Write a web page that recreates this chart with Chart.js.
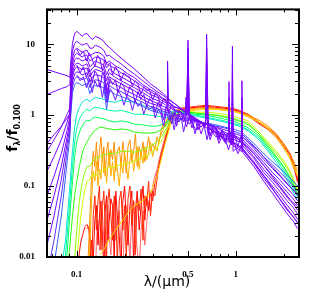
<!DOCTYPE html>
<html>
<head>
<meta charset="utf-8">
<script src="https://cdn.jsdelivr.net/npm/chart.js@4.4.1/dist/chart.umd.min.js"></script>
<style>
body { margin: 0; background: #fff; }
#wrap { width: 314px; height: 292px; }
</style>
</head>
<body>
<div id="wrap"><canvas id="myChart" width="314" height="292"></canvas></div>
<script>
// wavelength grids, in micron
const wYoung = [0.065, 0.072, 0.08, 0.087, 0.0905, 0.0915, 0.094, 0.097, 0.1,
  0.104, 0.108, 0.112, 0.116, 0.121, 0.126, 0.131, 0.14, 0.148, 0.154, 0.16, 0.175, 0.19, 0.21, 0.23, 0.26, 0.29,
  0.32, 0.35, 0.37, 0.3727, 0.375, 0.41, 0.45, 0.48, 0.486, 0.492, 0.5007, 0.51,
  0.56, 0.645, 0.6563, 0.67, 0.75, 0.85, 0.9, 0.9069, 0.915, 0.945, 0.9532, 0.962, 1.085, 1.094, 1.105, 1.3, 1.5, 1.7, 1.9, 2.1, 2.3, 2.45];
const wForest = [0.1, 0.105, 0.11, 0.115, 0.12, 0.125, 0.13, 0.135, 0.14, 0.145, 0.15, 0.156, 0.162, 0.168, 0.175,
  0.182, 0.19, 0.198, 0.206, 0.215, 0.224, 0.233, 0.243, 0.253, 0.264, 0.275, 0.287, 0.3, 0.312, 0.325, 0.338, 0.352,
  0.366, 0.38, 0.395, 0.41, 0.425, 0.44, 0.455, 0.47, 0.49, 0.51, 0.53, 0.555, 0.58, 0.605, 0.63, 0.66, 0.69, 0.72,
  0.75, 0.785, 0.82, 0.86, 0.9, 0.94, 0.98, 1.03, 1.08, 1.2, 1.4, 1.6, 1.8, 2.0, 2.2, 2.45];
const wMid = [0.08, 0.085, 0.09, 0.094, 0.097, 0.1, 0.104, 0.108, 0.112, 0.116, 0.121, 0.126, 0.131, 0.14, 0.15, 0.16,
  0.175, 0.19, 0.21, 0.23, 0.26, 0.29, 0.32, 0.35, 0.37, 0.39, 0.41, 0.45, 0.5, 0.56, 0.65, 0.75, 0.85, 0.95, 1.05,
  1.2, 1.4, 1.6, 1.8, 2.0, 2.2, 2.45];
const wOld = [0.115, 0.12, 0.124, 0.127, 0.13, 0.133, 0.136, 0.139, 0.142, 0.145, 0.148, 0.151, 0.154, 0.157, 0.16,
  0.164, 0.168, 0.172, 0.176, 0.18, 0.185, 0.19, 0.195, 0.2, 0.205, 0.21, 0.216, 0.222, 0.228, 0.234, 0.24, 0.247,
  0.254, 0.261, 0.268, 0.275, 0.283, 0.291, 0.3, 0.31, 0.32, 0.33, 0.34, 0.35, 0.36, 0.37, 0.38, 0.39, 0.4, 0.42,
  0.45, 0.5, 0.56, 0.65, 0.75, 0.85, 0.95, 1.05, 1.2, 1.4, 1.6, 1.8, 2.0, 2.2, 2.35, 2.45];
const wRedTail = [0.102, 0.106, 0.11, 0.113, 0.116, 0.119, 0.121, 0.123];

// young (purple) spectra
const P1 = [4.4, 4.1, 3.8, 3.6, 3.4, 5.4, 10.3, 14.2, 15.2, 14.2, 12.9, 13.8, 14.2, 12.5, 11.7, 12.9, 12.1, 11.0, 9.7, 9.1, 7.5, 6.4, 5.3, 4.5, 3.5, 2.78, 2.37, 2.02, 1.78, 5.8, 1.72, 1.47, 1.25, 1.14, 1.78, 1.07, 11.4, 1.0, 0.85, 0.70, 13.8, 0.66, 0.56, 0.46, 0.42, 2.97, 0.41, 0.38, 9.4, 0.37, 0.31, 3.06, 0.30, 0.19, 0.117, 0.080, 0.056, 0.041, 0.032, 0.025];
const P2 = [1.96, 2.15, 2.37, 2.53, 2.70, 3.96, 8.0, 10.3, 11.0, 10.3, 9.7, 10.0, 10.3, 8.8, 8.8, 9.7, 9.1, 8.25, 6.8, 7.0, 6.0, 5.3, 4.4, 3.8, 3.06, 2.53, 2.15, 1.90, 1.72, 3.96, 1.67, 1.47, 1.25, 1.17, 1.52, 1.10, 8.8, 1.03, 0.91, 0.73, 8.8, 0.68, 0.58, 0.48, 0.45, 1.78, 0.44, 0.41, 5.4, 0.40, 0.33, 1.78, 0.32, 0.21, 0.129, 0.091, 0.064, 0.046, 0.037, 0.030];
const P3 = [0.40, 0.53, 0.70, 0.91, 1.03, 2.87, 6.4, 8.25, 8.8, 8.25, 7.7, 8.0, 8.25, 6.8, 7.3, 7.7, 7.5, 6.8, 5.4, 5.8, 4.95, 4.5, 3.8, 3.4, 2.70, 2.30, 2.02, 1.72, 1.62, 2.87, 1.56, 1.33, 1.21, 1.10, 1.33, 1.07, 6.4, 1.0, 0.88, 0.73, 5.4, 0.54, 0.60, 0.51, 0.46, 1.10, 0.45, 0.44, 2.87, 0.42, 0.35, 1.10, 0.34, 0.22, 0.142, 0.1, 0.073, 0.054, 0.042, 0.034];
const P4 = [0.31, 0.45, 0.68, 1.03, 1.25, 2.45, 5.4, 7.0, 7.5, 7.0, 6.6, 7.0, 7.0, 5.8, 6.2, 6.6, 6.4, 6.0, 4.64, 5.1, 4.5, 3.96, 3.48, 3.06, 2.53, 2.15, 1.90, 1.67, 1.56, 2.09, 1.52, 1.29, 1.25, 1.10, 1.25, 1.14, 3.96, 1.03, 0.88, 0.75, 2.87, 0.73, 0.62, 0.53, 0.495, 0.80, 0.48, 0.45, 1.52, 0.31, 0.38, 0.68, 0.37, 0.245, 0.156, 0.114, 0.083, 0.062, 0.050, 0.040];
const P5 = [0.162, 0.26, 0.45, 0.80, 1.10, 2.09, 4.64, 6.0, 6.4, 6.2, 5.8, 6.0, 6.2, 4.8, 5.3, 5.8, 5.4, 5.1, 3.7, 4.5, 3.8, 3.48, 3.06, 2.70, 2.30, 1.96, 1.78, 1.56, 1.47, 1.72, 1.42, 1.21, 1.10, 1.03, 1.17, 1.0, 2.09, 0.97, 0.85, 0.75, 1.52, 0.70, 0.495, 0.54, 0.51, 0.68, 0.51, 0.48, 0.94, 0.46, 0.41, 0.495, 0.40, 0.26, 0.172, 0.125, 0.094, 0.070, 0.056, 0.046];
const P6 = [0.073, 0.138, 0.287, 0.62, 0.94, 1.78, 3.96, 5.1, 5.4, 5.3, 4.95, 5.1, 5.3, 4.1, 4.64, 4.95, 4.64, 4.4, 3.06, 3.96, 3.4, 3.06, 2.70, 2.45, 2.09, 1.78, 1.62, 1.47, 1.33, 1.52, 1.33, 1.17, 1.07, 1.0, 1.07, 1.0, 1.52, 0.97, 0.62, 0.75, 1.10, 0.73, 0.66, 0.58, 0.54, 0.54, 0.53, 0.51, 0.58, 0.495, 0.44, 0.44, 0.42, 0.287, 0.196, 0.142, 0.107, 0.083, 0.066, 0.054];
const P7 = [0.033, 0.073, 0.19, 0.495, 0.80, 1.52, 3.48, 4.5, 4.8, 4.64, 4.4, 4.5, 4.64, 3.48, 4.1, 4.4, 4.2, 3.96, 2.53, 3.48, 3.06, 2.78, 2.45, 2.22, 1.84, 1.62, 1.47, 1.33, 1.25, 1.25, 1.25, 0.97, 1.03, 0.97, 0.97, 0.94, 0.94, 0.94, 0.83, 0.75, 0.75, 0.75, 0.66, 0.42, 0.56, 0.56, 0.56, 0.53, 0.53, 0.53, 0.46, 0.45, 0.45, 0.31, 0.215, 0.156, 0.121, 0.094, 0.075, 0.062];
const P8 = [0.0147, 0.038, 0.125, 0.40, 0.68, 1.29, 2.97, 3.8, 4.1, 3.96, 3.7, 3.8, 3.96, 2.97, 3.48, 3.7, 3.6, 3.4, 2.02, 2.97, 2.70, 2.45, 2.15, 1.96, 1.67, 1.47, 1.38, 1.21, 1.17, 1.17, 1.17, 0.88, 0.97, 0.91, 0.91, 0.91, 0.91, 0.91, 0.83, 0.75, 0.75, 0.75, 0.68, 0.62, 0.60, 0.60, 0.58, 0.56, 0.56, 0.56, 0.51, 0.51, 0.495, 0.34, 0.237, 0.178, 0.138, 0.107, 0.088, 0.073];
const P9 = [0.0056, 0.0172, 0.073, 0.31, 0.58, 1.10, 2.53, 3.26, 3.48, 3.4, 3.16, 3.26, 3.4, 2.45, 2.97, 3.16, 3.06, 2.87, 1.52, 2.61, 2.30, 2.15, 1.90, 1.72, 1.52, 1.33, 1.25, 1.14, 1.10, 1.10, 1.10, 0.83, 0.91, 0.88, 0.88, 0.88, 0.88, 0.88, 0.83, 0.77, 0.77, 0.75, 0.70, 0.66, 0.64, 0.64, 0.62, 0.42, 0.60, 0.60, 0.54, 0.54, 0.53, 0.37, 0.26, 0.20, 0.156, 0.125, 0.10, 0.085];
const P10 = [0.0025, 0.0077, 0.038, 0.22, 0.495, 0.94, 2.09, 2.70, 2.87, 2.78, 2.61, 2.70, 2.78, 2.02, 2.53, 2.61, 2.53, 2.45, 1.21, 2.22, 1.96, 1.84, 1.67, 1.52, 1.33, 1.17, 1.10, 1.03, 1.0, 1.0, 1.0, 0.77, 0.88, 0.83, 0.83, 0.85, 0.85, 0.85, 0.83, 0.77, 0.77, 0.77, 0.73, 0.68, 0.66, 0.66, 0.66, 0.64, 0.64, 0.64, 0.58, 0.58, 0.56, 0.40, 0.287, 0.22, 0.178, 0.142, 0.117, 0.10];
// noisy young spectra (absorption forest)
const F1 = [5.1, 3.96, 4.8, 3.4, 4.5, 2.87, 4.2, 3.7, 2.45, 3.96, 3.48, 1.96, 3.26, 2.70, 3.16, 2.09, 2.87, 2.53, 1.78, 2.53, 2.22, 1.52, 2.15, 1.67, 1.96, 1.33, 1.72, 1.52, 1.10, 1.52, 1.25, 0.85, 1.33, 1.03, 0.75, 1.10, 0.70, 1.03, 0.85, 1.0, 0.68, 0.94, 0.77, 0.88, 0.62, 0.83, 0.70, 0.77, 0.51, 0.70, 0.64, 0.45, 0.62, 0.53, 0.56, 0.38, 0.51, 0.46, 0.42, 0.35, 0.237, 0.162, 0.114, 0.085, 0.064, 0.051];
const F2 = [3.7, 3.06, 3.48, 2.45, 3.26, 2.09, 3.06, 2.53, 2.87, 1.78, 2.70, 1.52, 2.37, 2.09, 1.62, 2.22, 1.90, 1.38, 1.84, 1.67, 1.17, 1.62, 1.33, 1.52, 1.03, 1.38, 1.21, 1.33, 0.91, 1.21, 1.07, 0.70, 1.10, 0.85, 1.0, 0.62, 0.94, 0.80, 0.91, 0.58, 0.88, 0.75, 0.85, 0.545, 0.80, 0.68, 0.75, 0.45, 0.70, 0.62, 0.66, 0.48, 0.62, 0.40, 0.58, 0.53, 0.56, 0.36, 0.51, 0.42, 0.31, 0.215, 0.162, 0.125, 0.097, 0.077];
const F3 = [8.5, 7.0, 8.0, 5.8, 7.5, 6.2, 4.8, 7.0, 6.2, 4.2, 6.0, 5.1, 5.4, 3.7, 4.8, 4.2, 3.06, 3.96, 3.6, 3.48, 2.53, 3.06, 2.70, 1.96, 2.53, 2.22, 2.30, 1.62, 2.02, 1.84, 1.33, 1.72, 1.52, 1.10, 1.42, 1.25, 0.91, 1.17, 1.10, 0.80, 1.03, 0.97, 0.66, 0.85, 0.77, 0.545, 0.70, 0.66, 0.45, 0.60, 0.56, 0.40, 0.51, 0.46, 0.326, 0.44, 0.41, 0.287, 0.36, 0.26, 0.172, 0.114, 0.077, 0.056, 0.042, 0.0306];

// intermediate (cyan / green / yellow) spectra
const G1 = [0.0066, 0.0172, 0.085, 0.31, 0.68, 1.03, 1.29, 1.52, 1.62, 1.67, 1.56, 1.67, 1.78, 1.72, 1.67, 1.56, 1.52, 1.62, 1.56, 1.52, 1.38, 1.25, 1.17, 1.10, 1.03, 1.10, 1.14, 1.10, 1.03, 0.97, 0.91, 0.85, 0.80, 0.75, 0.70, 0.60, 0.45, 0.31, 0.215, 0.152, 0.10, 0.062];
const G2 = [0.0018, 0.0107, 0.053, 0.19, 0.42, 0.66, 0.88, 1.03, 1.14, 1.21, 1.14, 1.25, 1.29, 1.25, 1.21, 1.17, 1.14, 1.17, 1.10, 1.03, 1.03, 1.0, 0.97, 0.94, 0.91, 1.03, 1.10, 1.10, 1.03, 1.0, 0.94, 0.88, 0.83, 0.77, 0.73, 0.62, 0.48, 0.326, 0.237, 0.167, 0.114, 0.070];
const G3 = [0.001, 0.0056, 0.033, 0.117, 0.26, 0.42, 0.58, 0.70, 0.80, 0.85, 0.83, 0.91, 0.94, 0.91, 0.88, 0.83, 0.80, 0.83, 0.80, 0.75, 0.73, 0.70, 0.70, 0.75, 0.80, 0.97, 1.07, 1.10, 1.07, 1.03, 1.0, 0.94, 0.88, 0.83, 0.77, 0.66, 0.51, 0.348, 0.253, 0.184, 0.125, 0.075];
const G4 = [0.0005, 0.0025, 0.0125, 0.038, 0.073, 0.117, 0.19, 0.287, 0.36, 0.42, 0.495, 0.56, 0.62, 0.68, 0.66, 0.64, 0.62, 0.64, 0.62, 0.58, 0.56, 0.56, 0.58, 0.66, 0.75, 0.94, 1.07, 1.14, 1.10, 1.07, 1.03, 1.0, 0.94, 0.88, 0.83, 0.73, 0.545, 0.37, 0.26, 0.19, 0.133, 0.080];
const Y1 = [null, null, null, 0.0025, 0.0091, 0.024, 0.062, 0.110, 0.152, 0.19, 0.19, 0.222, 0.245, 0.26, 0.278, 0.287, 0.287, 0.31, 0.31, 0.30, 0.326, 0.36, 0.42, 0.545, 0.68, 0.85, 1.0, 1.10, 1.10, 1.07, 1.03, 1.0, 0.97, 0.91, 0.85, 0.77, 0.545, 0.396, 0.287, 0.215, 0.152, 0.085];
const Y2 = [null, null, null, 0.001, 0.0035, 0.0085, 0.024, 0.053, 0.085, 0.117, 0.125, 0.152, 0.138, 0.162, 0.172, 0.184, 0.19, 0.202, 0.209, 0.222, 0.253, 0.287, 0.348, 0.48, 0.62, 0.80, 0.97, 1.10, 1.14, 1.10, 1.10, 1.07, 1.03, 0.97, 0.91, 0.83, 0.58, 0.42, 0.31, 0.23, 0.162, 0.091];
const Y3 = [null, null, null, null, null, null, null, null, null, null, null, null, null, 0.0107, 0.0133, 0.0172, 0.024, 0.0306, 0.042, 0.053, 0.062, 0.080, 0.138, 0.31, 0.495, 0.75, 0.94, 1.07, 1.14, 1.17, 1.21, 1.21, 1.17, 1.14, 1.07, 0.97, 0.80, 0.66, 0.495, 0.36, 0.237, 0.138];

// old (orange / red) spectra
const O1 = [0.0025, 0.024, 0.138, 0.31, 0.19, 0.42, 0.162, 0.31, 0.495, 0.222, 0.36, 0.138, 0.31, 0.42, 0.19, 0.326, 0.237, 0.42, 0.162, 0.31, 0.36, 0.19, 0.42, 0.26, 0.152, 0.36, 0.45, 0.222, 0.31, 0.545, 0.19, 0.36, 0.26, 0.42, 0.222, 0.326, 0.495, 0.31, 0.396, 0.326, 0.495, 0.42, 0.62, 0.75, 0.68, 0.88, 0.91, 1.03, 1.10, 1.17, 1.21, 1.21, 1.25, 1.29, 1.25, 1.21, 1.17, 1.10, 1.0, 0.85, 0.70, 0.545, 0.396, 0.278, 0.209, 0.162];
const O2 = [0.0013, 0.0091, 0.062, 0.162, 0.117, 0.222, 0.10, 0.172, 0.125, 0.31, 0.152, 0.222, 0.110, 0.19, 0.31, 0.138, 0.222, 0.117, 0.26, 0.172, 0.10, 0.222, 0.152, 0.31, 0.19, 0.125, 0.237, 0.326, 0.162, 0.26, 0.36, 0.172, 0.31, 0.209, 0.36, 0.237, 0.287, 0.42, 0.26, 0.36, 0.31, 0.45, 0.545, 0.62, 0.80, 0.85, 0.97, 1.0, 1.07, 1.14, 1.17, 1.17, 1.21, 1.25, 1.21, 1.17, 1.14, 1.07, 0.94, 0.80, 0.64, 0.495, 0.348, 0.245, 0.184, 0.142];
const R1 = [0.025, 0.027, 0.0066, 0.038, 0.073, 0.024, 0.062, 0.10, 0.0125, 0.053, 0.085, 0.028, 0.0091, 0.062, 0.091, 0.038, 0.0172, 0.073, 0.045, 0.0077, 0.062, 0.085, 0.024, 0.053, 0.0091, 0.066, 0.10, 0.028, 0.062, 0.0107, 0.073, 0.045, 0.091, 0.0172, 0.073, 0.053, 0.117, 0.038, 0.085, 0.073, 0.125, 0.209, 0.287, 0.36, 0.45, 0.58, 0.75, 0.91, 1.0, 1.14, 1.25, 1.29, 1.33, 1.38, 1.33, 1.29, 1.25, 1.17, 1.03, 0.80, 0.66, 0.53, 0.396, 0.287, 0.19, 0.125];
const R2 = [0.0025, 0.0048, 0.0172, 0.0091, 0.033, 0.053, 0.0147, 0.038, 0.062, 0.020, 0.0066, 0.045, 0.073, 0.0172, 0.033, 0.066, 0.053, 0.0091, 0.085, 0.038, 0.020, 0.0066, 0.062, 0.10, 0.033, 0.0147, 0.053, 0.085, 0.0077, 0.045, 0.085, 0.024, 0.053, 0.10, 0.033, 0.073, 0.045, 0.085, 0.062, 0.110, 0.152, 0.19, 0.26, 0.326, 0.42, 0.53, 0.68, 0.85, 0.97, 1.10, 1.21, 1.25, 1.29, 1.33, 1.29, 1.25, 1.21, 1.14, 1.0, 0.77, 0.64, 0.51, 0.37, 0.27, 0.172, 0.117];
const R3 = [null, null, null, null, 0.0025, 0.0172, 0.033, 0.0125, 0.028, 0.045, 0.0172, 0.0077, 0.033, 0.053, 0.020, 0.0107, 0.038, 0.062, 0.0172, 0.028, 0.045, 0.0125, 0.0066, 0.028, 0.053, 0.024, 0.0091, 0.038, 0.062, 0.024, 0.0125, 0.0066, 0.024, 0.045, 0.0147, 0.028, 0.062, 0.045, 0.10, 0.138, 0.172, 0.237, 0.31, 0.396, 0.495, 0.62, 0.75, 0.88, 1.0, 1.10, 1.21, 1.25, 1.29, 1.29, 1.25, 1.21, 1.17, 1.10, 0.97, 0.75, 0.62, 0.48, 0.348, 0.245, 0.162, 0.110];
const fRedTail = [0.0085, 0.0162, 0.0222, 0.027, 0.0287, 0.025, 0.0172, 0.0085];

// axis ticks
const xTicks = [0.07, 0.08, 0.09, 0.1, 0.2, 0.3, 0.4, 0.5, 0.6, 0.7, 0.8, 0.9, 1, 2];
const xMajor = [0.1, 0.5, 1];
const yTicks = [0.01, 0.02, 0.03, 0.04, 0.05, 0.06, 0.07, 0.08, 0.09, 0.1, 0.2, 0.3, 0.4, 0.5, 0.6, 0.7, 0.8, 0.9,
  1, 2, 3, 4, 5, 6, 7, 8, 9, 10, 20, 30];
const yMajor = [0.01, 0.1, 1, 10];

// purple on top, red underneath
const lines = [
  [wYoung, P1, '#7b00ff'], [wYoung, P2, '#7d08ff'], [wYoung, P3, '#7a00ff'], [wYoung, P4, '#8010ff'],
  [wYoung, P5, '#7800ff'], [wYoung, P6, '#7c0cff'], [wYoung, P7, '#7400ff'], [wYoung, P8, '#7010ff'],
  [wForest, F3, '#7c06ff'], [wForest, F1, '#7600ff'], [wForest, F2, '#6c18ff'],
  [wYoung, P9, '#5a30ff'], [wYoung, P10, '#3a60ff'],
  [wMid, G1, '#00e6d2'], [wMid, G2, '#00ff9c'], [wMid, G3, '#00ff5a'], [wMid, G4, '#28ff10'],
  [wMid, Y1, '#8cff00'], [wMid, Y2, '#c8ff00'], [wMid, Y3, '#ffd800'],
  [wOld, O2, '#ffae00'], [wOld, O1, '#ff9000'],
  [wOld, R1, '#ff2a00'], [wOld, R2, '#ff0000'], [wOld, R3, '#ff6868'], [wRedTail, fRedTail, '#ff1010']
];

function pts(w, f) {
  return w.map((x, i) => ({ x: x, y: f[i] }));
}

let datasets = lines.map((l, i) => ({
  data: pts(l[0], l[1]),
  borderColor: l[2],
  borderWidth: 1,
  borderJoinStyle: 'bevel',
  pointRadius: 0,
  fill: false,
  tension: 0,
  order: i
}));

// IDL style frame: inward ticks on all four sides, axis titles drawn by hand
const frame = {
  id: 'frame',
  afterDraw(chart) {
    const ctx = chart.ctx;
    const a = chart.chartArea;
    const xs = chart.scales.x;
    const ys = chart.scales.y;
    ctx.save();
    ctx.strokeStyle = '#000';
    ctx.lineWidth = 1;
    ctx.beginPath();
    xTicks.forEach(v => {
      const px = Math.round(xs.getPixelForValue(v)) + 0.5;
      const len = xMajor.includes(v) ? 6 : 3;
      ctx.moveTo(px, a.bottom); ctx.lineTo(px, a.bottom - len);
      ctx.moveTo(px, a.top); ctx.lineTo(px, a.top + len);
    });
    yTicks.forEach(v => {
      const py = Math.round(ys.getPixelForValue(v)) + 0.5;
      const len = yMajor.includes(v) ? 7 : 4;
      ctx.moveTo(a.left, py); ctx.lineTo(a.left + len, py);
      ctx.moveTo(a.right, py); ctx.lineTo(a.right - len, py);
    });
    ctx.stroke();
    ctx.lineWidth = 2;
    ctx.strokeRect(a.left, a.top, a.right - a.left, a.bottom - a.top);

    ctx.fillStyle = '#000';
    ctx.textBaseline = 'alphabetic';
    ctx.font = '14px "DejaVu Sans"';
    ctx.textAlign = 'center';
    ctx.fillText('\u03bb/(\u03bcm)', 167, 286);

    // y title: f_lambda / f_0.100
    ctx.translate(17, 128);
    ctx.rotate(-Math.PI / 2);
    const parts = [['f', 14, 0], ['\u03bb', 8, 3], ['/f', 14, 0], ['0.100', 8, 3]];
    let total = 0;
    parts.forEach(p => { ctx.font = 'bold ' + p[1] + 'px "DejaVu Sans"'; total += ctx.measureText(p[0]).width; });
    let cx = -total / 2;
    ctx.textAlign = 'left';
    parts.forEach(p => {
      ctx.font = 'bold ' + p[1] + 'px "DejaVu Sans"';
      ctx.fillText(p[0], cx, p[2]);
      cx += ctx.measureText(p[0]).width;
    });
    ctx.restore();
  }
};

const ctx = document.getElementById('myChart');
new Chart(ctx, {
  type: 'line',
  data: { datasets: datasets },
  options: {
    responsive: false,
    animation: false,
    devicePixelRatio: 1,
    layout: { padding: { top: 5, right: 15, left: 0, bottom: 0 } },
    plugins: { legend: { display: false }, tooltip: { enabled: false }, title: { display: false } },
    scales: {
      x: {
        type: 'logarithmic',
        min: 0.065,
        max: 2.5,
        grid: { display: false },
        border: { display: false },
        afterBuildTicks: s => { s.ticks = xTicks.map(v => ({ value: v })); },
        afterFit: s => { s.height = 35; },
        ticks: {
          autoSkip: false, maxRotation: 0, minRotation: 0, padding: 4, color: '#000',
          font: { family: 'Liberation Serif', size: 9, weight: 'bold' },
          callback: v => (xMajor.includes(v) ? String(v) : '')
        }
      },
      y: {
        type: 'logarithmic',
        min: 0.01,
        max: 31,
        grid: { display: false },
        border: { display: false },
        afterBuildTicks: s => { s.ticks = yTicks.map(v => ({ value: v })); },
        afterFit: s => { s.width = 47; },
        ticks: {
          autoSkip: false, padding: 4, color: '#000',
          font: { family: 'Liberation Serif', size: 9, weight: 'bold' },
          callback: v => (yMajor.includes(v) ? String(v) : '')
        }
      }
    }
  },
  plugins: [frame]
});
</script>
</body>
</html>
